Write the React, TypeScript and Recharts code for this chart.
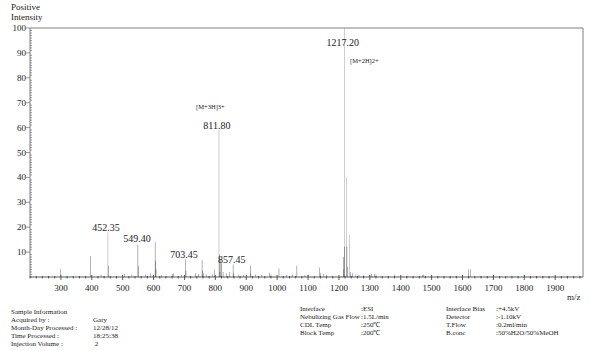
import { ComposedChart, Bar, Cell, XAxis, YAxis, ReferenceLine, ReferenceDot } from "recharts";

const peakMz = [
  298, 395, 430, 452.35, 454.5, 505, 530, 549.4, 551, 575, 590, 605, 606.5, 608, 625, 660, 665, 690,
  703.45, 705, 735, 745, 757, 759, 762, 770, 790, 798, 811.8, 813, 815, 818, 821, 825, 835, 845,
  857.45, 859, 875, 890, 913, 915, 930, 950, 975, 980, 1006, 1030, 1050, 1064, 1090, 1100, 1136,
  1140, 1150, 1160, 1214, 1216, 1217.2, 1219, 1223.7, 1226, 1229, 1235, 1238, 1245, 1255, 1265,
  1280, 1300, 1305, 1315, 1320, 1380, 1470, 1475, 1620, 1625, 1700, 1800,
];
const peakIntensity = [
  3.2, 8.3, 1, 18, 4.5, 1.3, 1, 13, 4.3, 1, 1.5, 14, 6.5, 3, 0.8, 1.2, 1.5, 0.8,
  7, 2.5, 1.5, 1.2, 6.7, 2.5, 1.5, 1, 1, 3, 59, 9, 2, 7, 5.5, 2, 1.5, 2,
  5, 1.5, 1, 0.8, 4.6, 1.5, 1, 0.8, 1.7, 1, 3.4, 0.8, 1, 4.5, 0.8, 1, 3.8,
  1.5, 1.2, 0.8, 8, 3, 100, 12, 40, 12, 4, 17, 2, 1.5, 1, 0.8,
  0.8, 1, 1.2, 1.3, 1, 1, 0.8, 1, 3, 3, 0.5, 0.5,
];

const xTicks = [300, 400, 500, 600, 700, 800, 900, 1000, 1100, 1200, 1300, 1400, 1500, 1600, 1700, 1800, 1900];
const yTicks = [10, 20, 30, 40, 50, 60, 70, 80, 90, 100];

// [text, m/z, intensity, anchor]
const annotations: [string, number, number, string][] = [
  ["1217.20", 1212, 94, "middle"],
  ["[M+2H]2+", 1236, 86.7, "start"],
  ["811.80", 805, 61, "middle"],
  ["[M+3H]3+", 784, 68.3, "middle"],
  ["452.35", 446, 19.7, "middle"],
  ["549.40", 546, 15.3, "middle"],
  ["703.45", 698.5, 9.2, "middle"],
  ["857.45", 853, 7.2, "middle"],
];

const sampleInfo = [
  ["Sample Information", ""],
  ["Acquired by :", "Gary"],
  ["Month-Day Processed :", "12/28/12"],
  ["Time Processed :", "18:25:38"],
  ["Injection Volume :", " 2"],
];
const interfaceInfo = [
  ["Interface", ":ESI"],
  ["Nebulizing Gas Flow", ":1.5L/min"],
  ["CDL Temp", ":250\u2103"],
  ["Block Temp", ":200\u2103"],
];
const biasInfo = [
  ["Interface Bias", ":+4.5kV"],
  ["Detector", ":-1.10kV"],
  ["T.Flow", ":0.2ml/min"],
  ["B.conc", ":50%H2O/50%MeOH"],
];

const data = peakMz.map((mz, i) => ({ mz, intensity: peakIntensity[i] }));

const FONT = "Liberation Serif";
const AXIS = "#808080";

const xMinor: number[] = [];
for (let v = 200; v <= 1980; v += 20) xMinor.push(v);
const yMinor: number[] = [];
for (let v = 0; v <= 100; v += 1) yMinor.push(v);

function XTick(props: any) {
  const { x, y, payload } = props;
  const major = xTicks.includes(payload.value);
  return (
    <g>
      <line x1={x} x2={x} y1={major ? y - 2 : y - 1} y2={major ? y + 3 : y + 1.5} stroke="#333" strokeWidth={0.8} />
      {major && (
        <text x={x} y={y + 14} textAnchor="middle" fontSize={9} fontFamily={FONT} fill="#222">
          {payload.value}
        </text>
      )}
    </g>
  );
}

function YTick(props: any) {
  const { x, y, payload } = props;
  const major = yTicks.includes(payload.value);
  return (
    <g>
      <line x1={major ? x - 4 : x} x2={major ? x : x + 2} y1={y} y2={y} stroke="#555" strokeWidth={0.6} />
      {major && (
        <text x={x - 4} y={y + 3} textAnchor="end" fontSize={9} fontFamily={FONT} fill="#222">
          {payload.value}
        </text>
      )}
    </g>
  );
}

function InfoBlock({ rows, x, vx, y0 }: { rows: string[][]; x: number; vx: number; y0: number }) {
  return (
    <>
      {rows.map((r, i) => (
        <g key={i}>
          <text x={x} y={y0 + i * 8} fontSize={7} fontFamily={FONT} fill="#222">{r[0]}</text>
          <text x={vx} y={y0 + i * 8} fontSize={7} fontFamily={FONT} fill="#222" style={{ whiteSpace: "pre" }}>{r[1]}</text>
        </g>
      ))}
    </>
  );
}

export default function App() {
  return (
    <div style={{ position: "absolute", left: 0, top: 0, width: 598, height: 351, background: "#fff" }}>
      <ComposedChart width={598} height={351} data={data} margin={{ top: 28, right: 15, bottom: 52, left: 0 }}>
        <XAxis
          dataKey="mz"
          type="number"
          domain={[200, 1990]}
          ticks={xMinor}
          interval={0}
          tickSize={0}
          tickMargin={0}
          tickLine={false}
          tick={<XTick />}
          axisLine={{ stroke: "#333", strokeWidth: 0.8 }}
          height={22}
          allowDataOverflow
        />
        <YAxis
          type="number"
          domain={[0, 100]}
          ticks={yMinor}
          interval={0}
          tickSize={0}
          tickMargin={0}
          tickLine={false}
          tick={<YTick />}
          axisLine={{ stroke: AXIS, strokeWidth: 1 }}
          width={30}
          allowDataOverflow
        />
        <ReferenceLine y={100} stroke={AXIS} strokeWidth={1} />
        <ReferenceLine x={1990} stroke={AXIS} strokeWidth={1} />
        <Bar dataKey="intensity" barSize={1} isAnimationActive={false}>
          {data.map((d, i) => (
            <Cell key={i} fill={d.intensity > 15 ? "#6e6e6e" : "#1a1a1a"} />
          ))}
        </Bar>
        {annotations.map(([text, mz, v, anchor], i) => (
          <ReferenceDot
            key={i}
            x={mz}
            y={v}
            r={0}
            fill="none"
            stroke="none"
            label={{
              position: "center",
              content: (p: any) => {
                const vb = p.viewBox || {};
                const cx = (vb.x ?? 0) + (vb.width ?? 0) / 2;
                const cy = (vb.y ?? 0) + (vb.height ?? 0) / 2;
                const small = text.startsWith("[");
                return (
                  <text
                    x={cx}
                    y={cy + (small ? 2.3 : 3.5)}
                    textAnchor={anchor}
                    fontSize={small ? 6.5 : 10}
                    fontFamily={FONT}
                    fill="#222"
                  >
                    {text}
                  </text>
                );
              },
            }}
          />
        ))}
      </ComposedChart>
      <svg width={598} height={351} style={{ position: "absolute", left: 0, top: 0, pointerEvents: "none" }}>
        <text x={11} y={10} fontSize={9} fontFamily={FONT} fill="#222">Positive</text>
        <text x={11} y={20} fontSize={9} fontFamily={FONT} fill="#222">Intensity</text>
        <text x={567} y={300} fontSize={9} fontFamily={FONT} fill="#222">m/z</text>
        <InfoBlock rows={sampleInfo} x={11} vx={93} y0={313.5} />
        <InfoBlock rows={interfaceInfo} x={300} vx={361} y0={311} />
        <InfoBlock rows={biasInfo} x={446} vx={496} y0={311} />
      </svg>
    </div>
  );
}
